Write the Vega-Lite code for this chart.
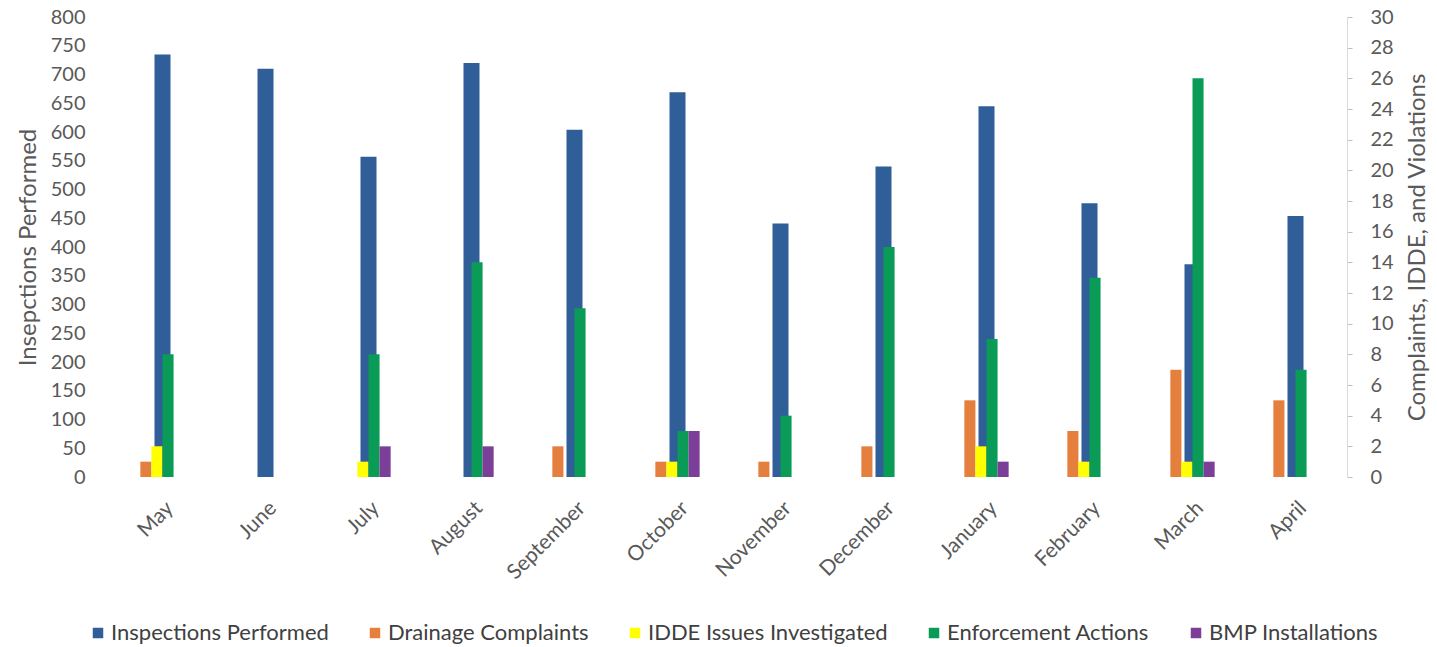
{
  "$schema": "https://vega.github.io/schema/vega-lite/v6.json",
  "autosize": {"type": "none"},
  "padding": {"left": 111, "top": 17, "right": 90, "bottom": 170},
  "width": 1236,
  "height": 460,
  "background": "white",
  "config": {
    "font": "Lato",
    "view": {"stroke": null},
    "axis": {"labelFont": "Lato", "titleFont": "Lato", "labelColor": "#595959", "titleColor": "#595959", "grid": false, "labelFontSize": 20, "titleFontSize": 24, "titleFontWeight": "normal"},
    "legend": {"labelFont": "Lato", "labelColor": "#404040", "labelFontSize": 22}
  },
  "data": {
    "values": [
      {"month": "May", "series": "Inspections Performed", "value": 735},
      {"month": "June", "series": "Inspections Performed", "value": 710},
      {"month": "July", "series": "Inspections Performed", "value": 557},
      {"month": "August", "series": "Inspections Performed", "value": 720},
      {"month": "September", "series": "Inspections Performed", "value": 604},
      {"month": "October", "series": "Inspections Performed", "value": 669},
      {"month": "November", "series": "Inspections Performed", "value": 441},
      {"month": "December", "series": "Inspections Performed", "value": 540},
      {"month": "January", "series": "Inspections Performed", "value": 645},
      {"month": "February", "series": "Inspections Performed", "value": 476},
      {"month": "March", "series": "Inspections Performed", "value": 370},
      {"month": "April", "series": "Inspections Performed", "value": 454},

      {"month": "May", "series": "Drainage Complaints", "value": 1},
      {"month": "June", "series": "Drainage Complaints", "value": 0},
      {"month": "July", "series": "Drainage Complaints", "value": 0},
      {"month": "August", "series": "Drainage Complaints", "value": 0},
      {"month": "September", "series": "Drainage Complaints", "value": 2},
      {"month": "October", "series": "Drainage Complaints", "value": 1},
      {"month": "November", "series": "Drainage Complaints", "value": 1},
      {"month": "December", "series": "Drainage Complaints", "value": 2},
      {"month": "January", "series": "Drainage Complaints", "value": 5},
      {"month": "February", "series": "Drainage Complaints", "value": 3},
      {"month": "March", "series": "Drainage Complaints", "value": 7},
      {"month": "April", "series": "Drainage Complaints", "value": 5},

      {"month": "May", "series": "IDDE Issues Investigated", "value": 2},
      {"month": "June", "series": "IDDE Issues Investigated", "value": 0},
      {"month": "July", "series": "IDDE Issues Investigated", "value": 1},
      {"month": "August", "series": "IDDE Issues Investigated", "value": 0},
      {"month": "September", "series": "IDDE Issues Investigated", "value": 0},
      {"month": "October", "series": "IDDE Issues Investigated", "value": 1},
      {"month": "November", "series": "IDDE Issues Investigated", "value": 0},
      {"month": "December", "series": "IDDE Issues Investigated", "value": 0},
      {"month": "January", "series": "IDDE Issues Investigated", "value": 2},
      {"month": "February", "series": "IDDE Issues Investigated", "value": 1},
      {"month": "March", "series": "IDDE Issues Investigated", "value": 1},
      {"month": "April", "series": "IDDE Issues Investigated", "value": 0},

      {"month": "May", "series": "Enforcement Actions", "value": 8},
      {"month": "June", "series": "Enforcement Actions", "value": 0},
      {"month": "July", "series": "Enforcement Actions", "value": 8},
      {"month": "August", "series": "Enforcement Actions", "value": 14},
      {"month": "September", "series": "Enforcement Actions", "value": 11},
      {"month": "October", "series": "Enforcement Actions", "value": 3},
      {"month": "November", "series": "Enforcement Actions", "value": 4},
      {"month": "December", "series": "Enforcement Actions", "value": 15},
      {"month": "January", "series": "Enforcement Actions", "value": 9},
      {"month": "February", "series": "Enforcement Actions", "value": 13},
      {"month": "March", "series": "Enforcement Actions", "value": 26},
      {"month": "April", "series": "Enforcement Actions", "value": 7},

      {"month": "May", "series": "BMP Installations", "value": 0},
      {"month": "June", "series": "BMP Installations", "value": 0},
      {"month": "July", "series": "BMP Installations", "value": 2},
      {"month": "August", "series": "BMP Installations", "value": 2},
      {"month": "September", "series": "BMP Installations", "value": 0},
      {"month": "October", "series": "BMP Installations", "value": 3},
      {"month": "November", "series": "BMP Installations", "value": 0},
      {"month": "December", "series": "BMP Installations", "value": 0},
      {"month": "January", "series": "BMP Installations", "value": 1},
      {"month": "February", "series": "BMP Installations", "value": 0},
      {"month": "March", "series": "BMP Installations", "value": 1},
      {"month": "April", "series": "BMP Installations", "value": 0}
    ]
  },
  "encoding": {
    "x": {
      "field": "month", "type": "nominal",
      "scale": {"domain": ["May","June","July","August","September","October","November","December","January","February","March","April"], "paddingInner": 0.57, "paddingOuter": 0.285},
      "axis": {"title": null, "domain": false, "ticks": false, "labelAngle": -45, "labelPadding": 20, "labelFontSize": 21, "labelColor": "#595959"}
    },
    "color": {
      "field": "series", "type": "nominal",
      "scale": {
        "domain": ["Inspections Performed","Drainage Complaints","IDDE Issues Investigated","Enforcement Actions","BMP Installations"],
        "range": ["#2F5E98","#E57F3D","#FFFF00","#0A9B57","#7B3F99"]
      },
      "legend": {"title": null, "orient": "none", "direction": "horizontal", "legendX": -24, "legendY": 605, "symbolType": "square", "symbolSize": 110, "symbolStrokeWidth": 0, "labelLimit": 400, "columnPadding": 35, "labelOffset": 2}
    }
  },
  "layer": [
    {
      "transform": [{"filter": "datum.series === 'Inspections Performed'"}],
      "mark": {"type": "bar", "width": 16},
      "encoding": {
        "y": {
          "field": "value", "type": "quantitative",
          "scale": {"domain": [0, 800], "nice": false},
          "axis": {"title": "Insepctions Performed", "values": [0,50,100,150,200,250,300,350,400,450,500,550,600,650,700,750,800], "domain": false, "ticks": false, "labelPadding": 26, "titlePadding": 10}
        }
      }
    },
    {
      "transform": [{"filter": "datum.series !== 'Inspections Performed'"}],
      "mark": {"type": "bar"},
      "encoding": {
        "xOffset": {"field": "series", "type": "nominal", "scale": {"domain": ["Drainage Complaints","IDDE Issues Investigated","Enforcement Actions","BMP Installations"], "paddingInner": 0, "paddingOuter": 0}},
        "y": {
          "field": "value", "type": "quantitative",
          "scale": {"domain": [0, 30], "nice": false},
          "axis": {"orient": "right", "title": "Complaints, IDDE, and Violations", "titleAngle": 270, "values": [0,2,4,6,8,10,12,14,16,18,20,22,24,26,28,30], "domain": true, "domainColor": "#d9d9d9", "ticks": true, "tickColor": "#bfbfbf", "tickSize": 5, "labelPadding": 18, "titlePadding": 36}
        }
      }
    }
  ],
  "resolve": {"scale": {"y": "independent"}, "axis": {"y": "independent"}}
}
